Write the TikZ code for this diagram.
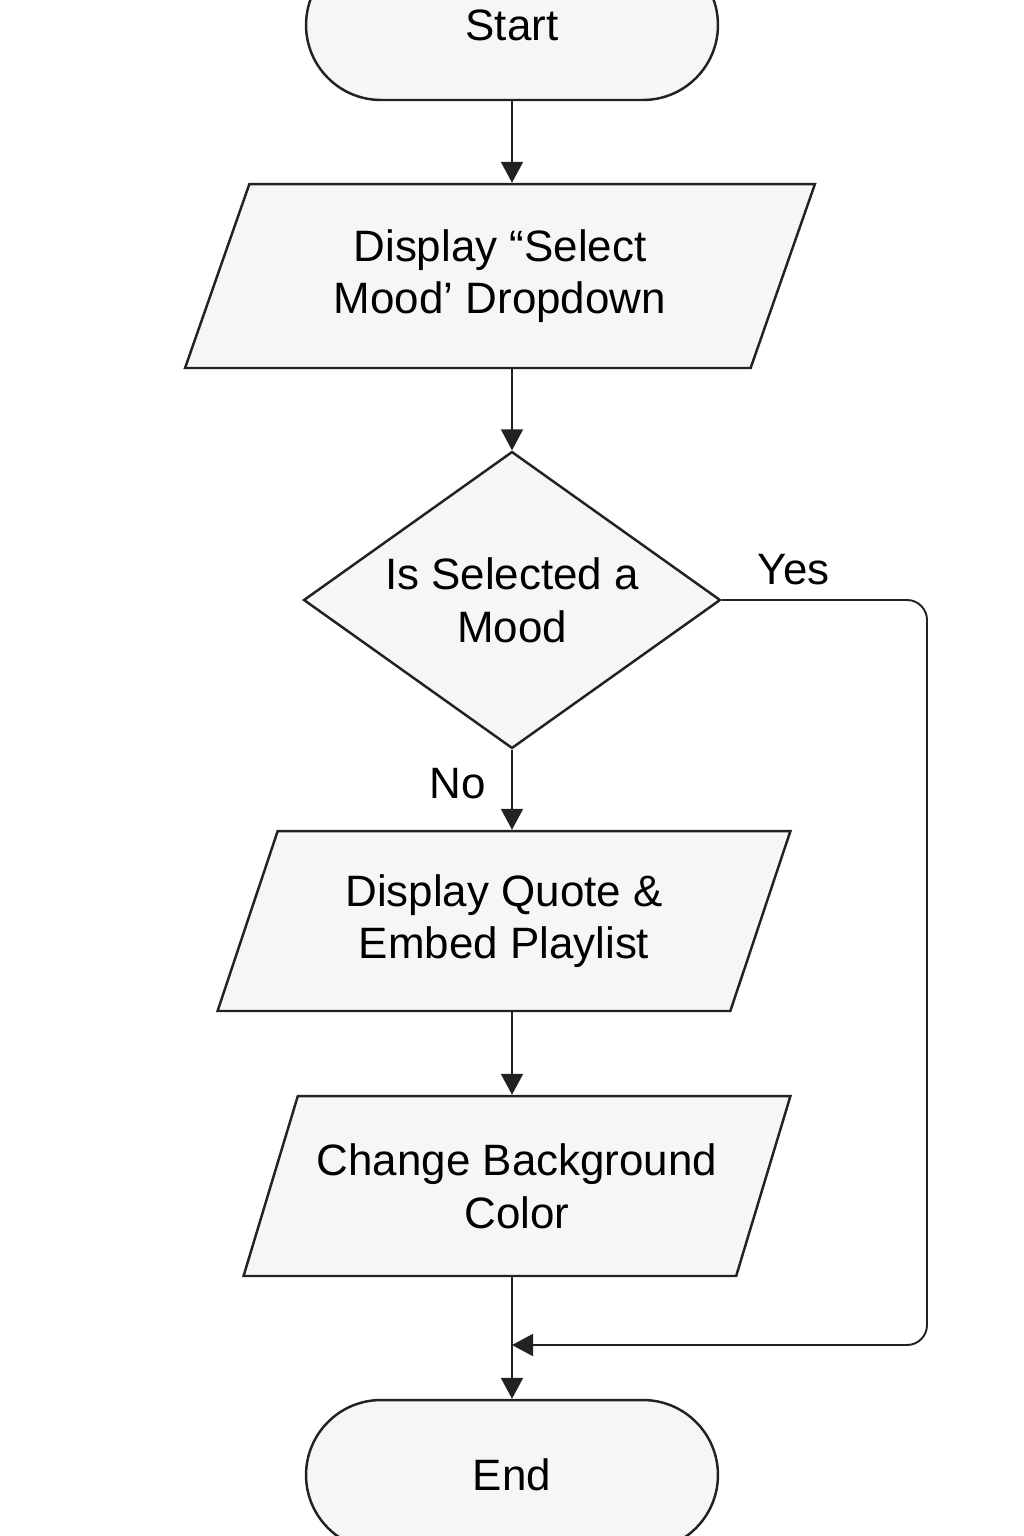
\documentclass[tikz,border=0pt]{standalone}
\usepackage{fontspec}
\setmainfont{Liberation Sans}
\usepackage{xcolor}
\usepackage[]{tikz}
\usetikzlibrary{positioning,shapes,calc}
\usetikzlibrary{arrows.meta}
\definecolor{lightGray}{HTML}{F6F6F6}
\definecolor{darkLine}{HTML}{222222}
\tikzstyle{nodeTerm}  =[rectangle,rounded corners=1.5cm,minimum width=8.24cm,minimum height=3cm,fill=lightGray,draw=darkLine,line width=1.4pt,font=\fontsize{25}{30}\selectfont]
\tikzstyle{nodeIO}    =[trapezium,trapezium stretches body,minimum height=3.6cm,fill=lightGray,draw=darkLine,line width=1.4pt,align=center,font=\fontsize{25}{30}\selectfont]
\tikzstyle{nodeDecide}=[diamond,aspect=1.4,minimum width=8.34cm,minimum height=5.94cm,inner sep=0pt,fill=lightGray,draw=darkLine,line width=1.4pt,align=center,font=\fontsize{25}{30}\selectfont]
\tikzstyle{nodeLabel} =[inner sep=0pt,font=\fontsize{25}{30}\selectfont]
\tikzset{flow/.style={draw=darkLine,line width=1.1pt,
    -{Triangle[length=0.42cm,width=0.44cm]}}
}

\begin{document}
\begin{tikzpicture}[x=0.02cm,y=-0.02cm]
      \useasboundingbox (0,0) rectangle (1024,1536);
      \node[nodeTerm] (start) [] at (512,25) {Start};
      \node[nodeIO,trapezium left angle=58.6,trapezium right angle=121.4,minimum width=12.6cm,minimum height=3.68cm] (select) [] at (500,276) {Display “Select\\Mood’ Dropdown};
      \node[nodeDecide] (mood) [] at (512,600) {Is Selected a\\Mood};
      \node[nodeIO,trapezium left angle=60.3,trapezium right angle=119.7,minimum width=11.46cm] (quote) [] at (504,921) {Display Quote \&\\Embed Playlist};
      \node[nodeIO,trapezium left angle=60.7,trapezium right angle=119.3,minimum width=10.94cm] (color) [] at (517,1186) {Change Background\\Color};
      \node[nodeTerm] (end) [] at (512,1475) {End};
      \coordinate (corner) at (927,600);
      \coordinate (merge) at (512,1345);
      \draw[flow] (start) -- (start |- select.north);
      \draw[flow] (mood.north |- select.south) -- (mood.north);
      \draw[flow] (mood.south) -- node[nodeLabel,pos=0.42,left=0.5cm] {No} (mood.south |- quote.north);
      \draw[flow] (mood.south |- quote.south) -- (mood.south |- color.north);
      \draw[flow] (end.north |- color.south) -- (end.north);
      \draw[flow,rounded corners=0.4cm] (mood.east) -- node[nodeLabel,pos=0.35,above=0.28cm] {Yes} (corner) -- (corner |- merge) -- (merge);
    \end{tikzpicture}
\end{document}
